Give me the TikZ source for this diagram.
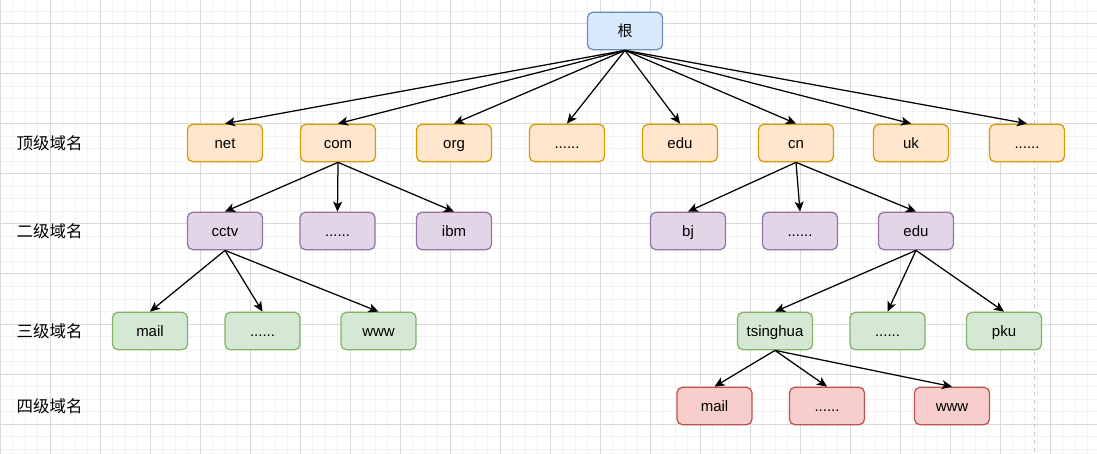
\documentclass[tikz,border=0pt]{standalone}
\usepackage{fontspec}
\setmainfont{Liberation Sans}
\newfontfamily\cjk{Noto Sans CJK SC}
\usetikzlibrary{arrows.meta}
\definecolor{bluefill}{HTML}{DAE8FC}\definecolor{bluedraw}{HTML}{6C8EBF}
\definecolor{orfill}{HTML}{FFE6CC}\definecolor{ordraw}{HTML}{D79B00}
\definecolor{pufill}{HTML}{E1D5E7}\definecolor{pudraw}{HTML}{9673A6}
\definecolor{grfill}{HTML}{D5E8D4}\definecolor{grdraw}{HTML}{82B366}
\definecolor{refill}{HTML}{F8CECC}\definecolor{redraw}{HTML}{B85450}
\definecolor{gridminor}{HTML}{F2F2F2}\definecolor{gridmajor}{HTML}{DADADA}
\definecolor{dashcol}{HTML}{C8C8C8}
\tikzset{
  box/.style={draw, rounded corners=5.5pt, line width=1.25pt, minimum width=75pt,
    minimum height=37.5pt, inner sep=0pt, text height=11.5pt, text depth=0pt,
    font=\fontsize{15}{18}\selectfont},
  lvl0/.style={box, fill=bluefill, draw=bluedraw},
  lvl1/.style={box, fill=orfill, draw=ordraw},
  lvl2/.style={box, fill=pufill, draw=pudraw},
  lvl3/.style={box, fill=grfill, draw=grdraw},
  lvl4/.style={box, fill=refill, draw=redraw},
  lab/.style={font=\cjk\fontsize{16.5}{20}\selectfont, inner sep=0pt},
  conn/.style={line width=1.25pt, -{Stealth[length=10pt,width=9pt,inset=2.5pt]}},
}
\begin{document}
\begin{tikzpicture}[x=1pt,y=-1pt]
\useasboundingbox (0,0) rectangle (1097,454);
\fill[white] (0,0) rectangle (1097,454);
% grid
\foreach \x in {12.5,25,...,1097} \draw[gridminor, line width=1pt] (\x,0) -- (\x,454);
\foreach \y in {-1,11.5,...,454} \draw[gridminor, line width=1pt] (0,\y) -- (1097,\y);
\foreach \x in {0,50,...,1097} \draw[gridmajor, line width=1pt] (\x,0) -- (\x,454);
\foreach \y in {24,74,...,454} \draw[gridmajor, line width=1pt] (0,\y) -- (1097,\y);
\draw[dashcol, line width=1.5pt, dash pattern=on 4pt off 4pt] (1034.5,0) -- (1034.5,454);

% labels
\node[lab] (l1) at (49.5,143) {顶级域名};
\node[lab] (l2) at (49.5,231) {二级域名};
\node[lab] (l3) at (49.5,331) {三级域名};
\node[lab] (l4) at (49.5,406) {四级域名};

% nodes
\node[lvl0] (root) at (625,31) {\cjk 根};

\node[lvl1] (net) at (225,143) {net};
\node[lvl1] (com) at (338,143) {com};
\node[lvl1] (org) at (454,143) {org};
\node[lvl1] (dots1) at (567,143) {......};
\node[lvl1] (edu1) at (680,143) {edu};
\node[lvl1] (cn) at (796,143) {cn};
\node[lvl1] (uk) at (911,143) {uk};
\node[lvl1] (dots2) at (1027,143) {......};

\node[lvl2] (cctv) at (225,231) {cctv};
\node[lvl2] (dots3) at (337.5,231) {......};
\node[lvl2] (ibm) at (454,231) {ibm};
\node[lvl2] (bj) at (688,231) {bj};
\node[lvl2] (dots4) at (800,231) {......};
\node[lvl2] (edu2) at (916,231) {edu};

\node[lvl3] (mail1) at (150,331) {mail};
\node[lvl3] (dots5) at (262.5,331) {......};
\node[lvl3] (www1) at (378.5,331) {www};
\node[lvl3] (tsinghua) at (775,331) {tsinghua};
\node[lvl3] (dots6) at (887.5,331) {......};
\node[lvl3] (pku) at (1004,331) {pku};

\node[lvl4] (mail2) at (714.5,406) {mail};
\node[lvl4] (dots7) at (827,406) {......};
\node[lvl4] (www2) at (952,406) {www};

% connectors
\foreach \c in {net,com,org,dots1,edu1,cn,uk,dots2}
  \draw[conn] (root.south) -- (\c.north);
\foreach \c in {cctv,dots3,ibm} \draw[conn] (com.south) -- (\c.north);
\foreach \c in {bj,dots4,edu2} \draw[conn] (cn.south) -- (\c.north);
\foreach \c in {mail1,dots5,www1} \draw[conn] (cctv.south) -- (\c.north);
\foreach \c in {tsinghua,dots6,pku} \draw[conn] (edu2.south) -- (\c.north);
\foreach \c in {mail2,dots7,www2} \draw[conn] (tsinghua.south) -- (\c.north);
\end{tikzpicture}
\end{document}
